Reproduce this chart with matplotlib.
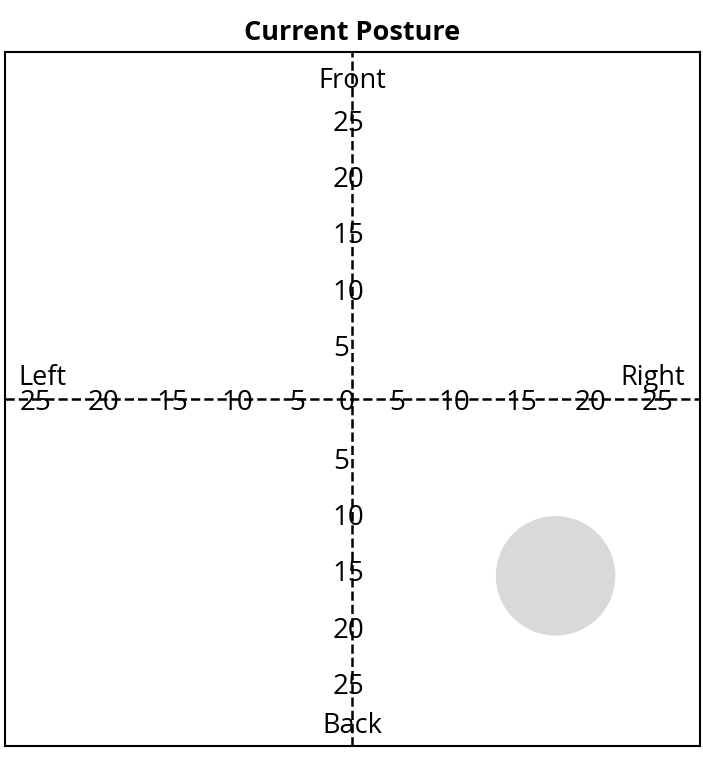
import matplotlib.pyplot as plt

plt.rcParams["font.family"] = ["Open Sans", "DejaVu Sans"]

# ============================================================
# DATA
# ============================================================
tick_values = [25, 20, 15, 10, 5, 0, 5, 10, 15, 20, 25]
# where each horizontal label sits along the x axis
x_label_pos = [-28.1, -22.1, -16.0, -10.2, -4.9, -0.5, 3.95, 9.0, 15.0, 21.1, 27.0]
y_label_pos = [25, 20, 15, 10, 5, 0, -5, -10, -15, -20, -25]
y_label_text = [25, 20, 15, 10, 5, 0, 5, 10, 15, 20, 25]

posture_x = [18.0]
posture_y = [-15.7]

LIM = 30.8

# ============================================================
# PLOT
# ============================================================
fig = plt.figure(figsize=(7.03, 7.58), dpi=100)
ax = fig.add_axes([5 / 703, 12 / 758, 695 / 703, 694 / 758])

ax.set_xlim(-LIM, LIM)
ax.set_ylim(-LIM, LIM)
ax.set_xticks([])
ax.set_yticks([])
for sp in ax.spines.values():
    sp.set_linewidth(1.5)

ax.axhline(0, color="black", linestyle="--", linewidth=1.8, zorder=1)
ax.axvline(0, color="black", linestyle="--", linewidth=1.8, zorder=1)

# horizontal axis labels
for xp, t in zip(x_label_pos, tick_values):
    ax.text(xp, -0.35, str(t), ha="center", va="center", fontsize=20, zorder=2)

# vertical axis labels (skip the shared 0)
for yp, t in zip(y_label_pos, y_label_text):
    if yp == 0:
        continue
    ax.text(-1.75, yp - 0.55, str(t), ha="left", va="center", fontsize=20, zorder=2)

ax.text(0, 28.2, "Front", ha="center", va="center", fontsize=19.5)
ax.text(0, -29.0, "Back", ha="center", va="center", fontsize=19.5)
ax.text(-29.6, 1.85, "Left", ha="left", va="center", fontsize=19.5)
ax.text(29.5, 1.85, "Right", ha="right", va="center", fontsize=19.5)

ax.scatter(posture_x, posture_y, s=7400, color="#d9d9d9", edgecolors="none", zorder=3)

ax.set_title("Current Posture", fontsize=19.5, fontweight="bold", pad=9)

plt.savefig("out.png", dpi=100)
